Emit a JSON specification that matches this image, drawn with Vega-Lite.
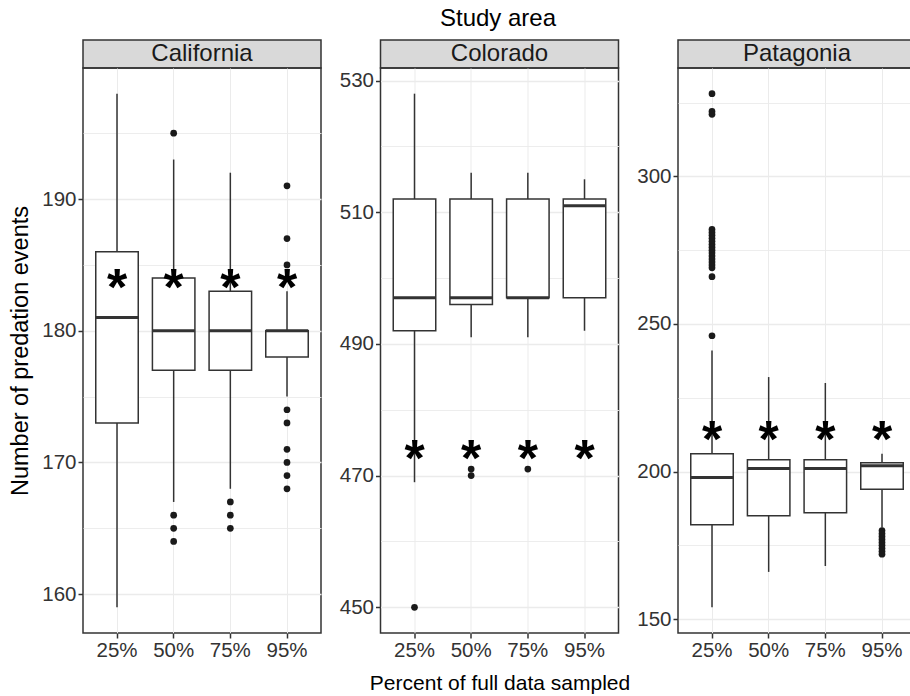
{
  "$schema": "https://vega.github.io/schema/vega-lite/v6.json",
  "padding": {"left": 8, "top": 7, "right": 0, "bottom": 0},
  "title": {"text": "Study area", "frame": "group", "anchor": "middle", "dx": 415, "fontSize": 24, "fontWeight": "normal", "font": "Liberation Sans", "color": "#000000", "offset": 8},
  "datasets": {
    "strips": [{"area": "California"}, {"area": "Colorado"}, {"area": "Patagonia"}],
    "boxes": [
      {"area": "California", "pct": "25%", "lower": 159, "q1": 173, "median": 181, "q3": 186, "upper": 198},
      {"area": "California", "pct": "50%", "lower": 167, "q1": 177, "median": 180, "q3": 184, "upper": 193},
      {"area": "California", "pct": "75%", "lower": 168, "q1": 177, "median": 180, "q3": 183, "upper": 192},
      {"area": "California", "pct": "95%", "lower": 175, "q1": 178, "median": 180, "q3": 180, "upper": 183},
      {"area": "Colorado", "pct": "25%", "lower": 469, "q1": 492, "median": 497, "q3": 512, "upper": 528},
      {"area": "Colorado", "pct": "50%", "lower": 491, "q1": 496, "median": 497, "q3": 512, "upper": 516},
      {"area": "Colorado", "pct": "75%", "lower": 491, "q1": 497, "median": 497, "q3": 512, "upper": 516},
      {"area": "Colorado", "pct": "95%", "lower": 492, "q1": 497, "median": 511, "q3": 512, "upper": 515},
      {"area": "Patagonia", "pct": "25%", "lower": 154, "q1": 182, "median": 198, "q3": 206, "upper": 241},
      {"area": "Patagonia", "pct": "50%", "lower": 166, "q1": 185, "median": 201, "q3": 204, "upper": 232},
      {"area": "Patagonia", "pct": "75%", "lower": 168, "q1": 186, "median": 201, "q3": 204, "upper": 230},
      {"area": "Patagonia", "pct": "95%", "lower": 181, "q1": 194, "median": 202, "q3": 203, "upper": 206}
    ],
    "outliers": [
      {"area": "California", "pct": "50%", "value": 195},
      {"area": "California", "pct": "50%", "value": 166},
      {"area": "California", "pct": "50%", "value": 165},
      {"area": "California", "pct": "50%", "value": 164},
      {"area": "California", "pct": "75%", "value": 167},
      {"area": "California", "pct": "75%", "value": 166},
      {"area": "California", "pct": "75%", "value": 165},
      {"area": "California", "pct": "95%", "value": 191},
      {"area": "California", "pct": "95%", "value": 187},
      {"area": "California", "pct": "95%", "value": 185},
      {"area": "California", "pct": "95%", "value": 174},
      {"area": "California", "pct": "95%", "value": 173},
      {"area": "California", "pct": "95%", "value": 171},
      {"area": "California", "pct": "95%", "value": 170},
      {"area": "California", "pct": "95%", "value": 169},
      {"area": "California", "pct": "95%", "value": 168},
      {"area": "Colorado", "pct": "25%", "value": 450},
      {"area": "Colorado", "pct": "50%", "value": 471},
      {"area": "Colorado", "pct": "50%", "value": 470},
      {"area": "Colorado", "pct": "75%", "value": 471},
      {"area": "Patagonia", "pct": "25%", "value": 328},
      {"area": "Patagonia", "pct": "25%", "value": 322},
      {"area": "Patagonia", "pct": "25%", "value": 321},
      {"area": "Patagonia", "pct": "25%", "value": 282},
      {"area": "Patagonia", "pct": "25%", "value": 281},
      {"area": "Patagonia", "pct": "25%", "value": 280},
      {"area": "Patagonia", "pct": "25%", "value": 279},
      {"area": "Patagonia", "pct": "25%", "value": 278},
      {"area": "Patagonia", "pct": "25%", "value": 277},
      {"area": "Patagonia", "pct": "25%", "value": 276},
      {"area": "Patagonia", "pct": "25%", "value": 275},
      {"area": "Patagonia", "pct": "25%", "value": 274},
      {"area": "Patagonia", "pct": "25%", "value": 273},
      {"area": "Patagonia", "pct": "25%", "value": 272},
      {"area": "Patagonia", "pct": "25%", "value": 271},
      {"area": "Patagonia", "pct": "25%", "value": 270},
      {"area": "Patagonia", "pct": "25%", "value": 269},
      {"area": "Patagonia", "pct": "25%", "value": 266},
      {"area": "Patagonia", "pct": "25%", "value": 246},
      {"area": "Patagonia", "pct": "95%", "value": 180},
      {"area": "Patagonia", "pct": "95%", "value": 179},
      {"area": "Patagonia", "pct": "95%", "value": 178},
      {"area": "Patagonia", "pct": "95%", "value": 177},
      {"area": "Patagonia", "pct": "95%", "value": 176},
      {"area": "Patagonia", "pct": "95%", "value": 175},
      {"area": "Patagonia", "pct": "95%", "value": 174},
      {"area": "Patagonia", "pct": "95%", "value": 173},
      {"area": "Patagonia", "pct": "95%", "value": 172}
    ],
    "stars": [
      {"area": "California", "pct": "25%", "value": 184},
      {"area": "California", "pct": "50%", "value": 184},
      {"area": "California", "pct": "75%", "value": 184},
      {"area": "California", "pct": "95%", "value": 184},
      {"area": "Colorado", "pct": "25%", "value": 474},
      {"area": "Colorado", "pct": "50%", "value": 474},
      {"area": "Colorado", "pct": "75%", "value": 474},
      {"area": "Colorado", "pct": "95%", "value": 474},
      {"area": "Patagonia", "pct": "25%", "value": 214},
      {"area": "Patagonia", "pct": "50%", "value": 214},
      {"area": "Patagonia", "pct": "75%", "value": 214},
      {"area": "Patagonia", "pct": "95%", "value": 214}
    ]
  },
  "columns": 3,
  "spacing": {"row": 0, "column": 59.5},
  "bounds": "flush",
  "concat": [
    {"width": 238, "height": 28, "view": {"fill": "#d9d9d9", "stroke": "#333333", "strokeWidth": 1.5},
     "data": {"name": "strips"}, "transform": [{"filter": "datum.area === 'California'"}],
     "mark": {"type": "text", "fontSize": 24, "color": "#1a1a1a", "baseline": "middle", "align": "center"},
     "encoding": {"text": {"field": "area"}}},
    {"width": 238, "height": 28, "view": {"fill": "#d9d9d9", "stroke": "#333333", "strokeWidth": 1.5},
     "data": {"name": "strips"}, "transform": [{"filter": "datum.area === 'Colorado'"}],
     "mark": {"type": "text", "fontSize": 24, "color": "#1a1a1a", "baseline": "middle", "align": "center"},
     "encoding": {"text": {"field": "area"}}},
    {"width": 238, "height": 28, "view": {"fill": "#d9d9d9", "stroke": "#333333", "strokeWidth": 1.5},
     "data": {"name": "strips"}, "transform": [{"filter": "datum.area === 'Patagonia'"}],
     "mark": {"type": "text", "fontSize": 24, "color": "#1a1a1a", "baseline": "middle", "align": "center"},
     "encoding": {"text": {"field": "area"}}},
    {"width": 238, "height": 565,
     "layer": [
       {"data": {"name": "boxes"}, "transform": [{"filter": "datum.area === 'California'"}],
        "mark": {"type": "rule", "color": "#333333", "strokeWidth": 1.5},
        "encoding": {
          "x": {"field": "pct", "type": "ordinal", "title": null, "scale": {"type": "band", "domain": ["25%", "50%", "75%", "95%"], "paddingInner": 0.25, "paddingOuter": 0.225}, "axis": {"bandPosition": 0.5, "grid": true, "labelAngle": 0}},
          "y": {"field": "lower", "type": "quantitative", "title": "Number of predation events", "scale": {"domain": [157.05, 199.95], "nice": false, "zero": false},
                "axis": {"values": [160, 165, 170, 175, 180, 185, 190, 195], "labelExpr": "datum.value % 10 === 0 ? datum.label : ''", "tickOpacity": {"condition": {"test": "datum.value % 10 === 0", "value": 1}, "value": 0}, "gridWidth": {"condition": {"test": "datum.value % 10 === 0", "value": 1.5}, "value": 0.9}}},
          "y2": {"field": "q1"}}},
       {"data": {"name": "boxes"}, "transform": [{"filter": "datum.area === 'California'"}],
        "mark": {"type": "rule", "color": "#333333", "strokeWidth": 1.5},
        "encoding": {"x": {"field": "pct", "type": "ordinal", "title": null}, "y": {"field": "q3", "type": "quantitative", "title": "Number of predation events"}, "y2": {"field": "upper"}}},
       {"data": {"name": "boxes"}, "transform": [{"filter": "datum.area === 'California'"}],
        "mark": {"type": "bar", "fill": "#ffffff", "stroke": "#333333", "strokeWidth": 1.5},
        "encoding": {"x": {"field": "pct", "type": "ordinal", "title": null}, "y": {"field": "q1", "type": "quantitative", "title": "Number of predation events"}, "y2": {"field": "q3"}}},
       {"data": {"name": "boxes"}, "transform": [{"filter": "datum.area === 'California'"}],
        "mark": {"type": "bar", "fill": "#333333", "stroke": "#333333", "strokeWidth": 3},
        "encoding": {"x": {"field": "pct", "type": "ordinal", "title": null}, "y": {"field": "median", "type": "quantitative", "title": "Number of predation events"}, "y2": {"field": "median"}}},
       {"data": {"name": "outliers"}, "transform": [{"filter": "datum.area === 'California'"}],
        "mark": {"type": "point", "filled": true, "size": 45, "color": "#1a1a1a", "opacity": 1},
        "encoding": {"x": {"field": "pct", "type": "ordinal", "title": null}, "y": {"field": "value", "type": "quantitative", "title": "Number of predation events"}}},
       {"data": {"name": "stars"}, "transform": [{"filter": "datum.area === 'California'"}],
        "mark": {"type": "text", "text": "*", "fontSize": 52, "fontWeight": "bold", "color": "#000000", "baseline": "alphabetic", "align": "center", "dy": 27},
        "encoding": {"x": {"field": "pct", "type": "ordinal", "title": null}, "y": {"field": "value", "type": "quantitative", "title": "Number of predation events"}}}
     ]},
    {"width": 238, "height": 565,
     "layer": [
       {"data": {"name": "boxes"}, "transform": [{"filter": "datum.area === 'Colorado'"}],
        "mark": {"type": "rule", "color": "#333333", "strokeWidth": 1.5},
        "encoding": {
          "x": {"field": "pct", "type": "ordinal", "title": "Percent of full data sampled", "scale": {"type": "band", "domain": ["25%", "50%", "75%", "95%"], "paddingInner": 0.25, "paddingOuter": 0.225}, "axis": {"bandPosition": 0.5, "grid": true, "labelAngle": 0}},
          "y": {"field": "lower", "type": "quantitative", "title": null, "scale": {"domain": [446.1, 531.9], "nice": false, "zero": false},
                "axis": {"values": [450, 460, 470, 480, 490, 500, 510, 520, 530], "labelExpr": "(datum.value - 450) % 20 === 0 ? datum.label : ''", "tickOpacity": {"condition": {"test": "(datum.value - 450) % 20 === 0", "value": 1}, "value": 0}, "gridWidth": {"condition": {"test": "(datum.value - 450) % 20 === 0", "value": 1.5}, "value": 0.9}}},
          "y2": {"field": "q1"}}},
       {"data": {"name": "boxes"}, "transform": [{"filter": "datum.area === 'Colorado'"}],
        "mark": {"type": "rule", "color": "#333333", "strokeWidth": 1.5},
        "encoding": {"x": {"field": "pct", "type": "ordinal", "title": "Percent of full data sampled"}, "y": {"field": "q3", "type": "quantitative", "title": null}, "y2": {"field": "upper"}}},
       {"data": {"name": "boxes"}, "transform": [{"filter": "datum.area === 'Colorado'"}],
        "mark": {"type": "bar", "fill": "#ffffff", "stroke": "#333333", "strokeWidth": 1.5},
        "encoding": {"x": {"field": "pct", "type": "ordinal", "title": "Percent of full data sampled"}, "y": {"field": "q1", "type": "quantitative", "title": null}, "y2": {"field": "q3"}}},
       {"data": {"name": "boxes"}, "transform": [{"filter": "datum.area === 'Colorado'"}],
        "mark": {"type": "bar", "fill": "#333333", "stroke": "#333333", "strokeWidth": 3},
        "encoding": {"x": {"field": "pct", "type": "ordinal", "title": "Percent of full data sampled"}, "y": {"field": "median", "type": "quantitative", "title": null}, "y2": {"field": "median"}}},
       {"data": {"name": "outliers"}, "transform": [{"filter": "datum.area === 'Colorado'"}],
        "mark": {"type": "point", "filled": true, "size": 45, "color": "#1a1a1a", "opacity": 1},
        "encoding": {"x": {"field": "pct", "type": "ordinal", "title": "Percent of full data sampled"}, "y": {"field": "value", "type": "quantitative", "title": null}}},
       {"data": {"name": "stars"}, "transform": [{"filter": "datum.area === 'Colorado'"}],
        "mark": {"type": "text", "text": "*", "fontSize": 52, "fontWeight": "bold", "color": "#000000", "baseline": "alphabetic", "align": "center", "dy": 27},
        "encoding": {"x": {"field": "pct", "type": "ordinal", "title": "Percent of full data sampled"}, "y": {"field": "value", "type": "quantitative", "title": null}}}
     ]},
    {"width": 238, "height": 565,
     "layer": [
       {"data": {"name": "boxes"}, "transform": [{"filter": "datum.area === 'Patagonia'"}],
        "mark": {"type": "rule", "color": "#333333", "strokeWidth": 1.5},
        "encoding": {
          "x": {"field": "pct", "type": "ordinal", "title": null, "scale": {"type": "band", "domain": ["25%", "50%", "75%", "95%"], "paddingInner": 0.25, "paddingOuter": 0.225}, "axis": {"bandPosition": 0.5, "grid": true, "labelAngle": 0}},
          "y": {"field": "lower", "type": "quantitative", "title": null, "scale": {"domain": [145.3, 336.7], "nice": false, "zero": false},
                "axis": {"values": [150, 175, 200, 225, 250, 275, 300, 325], "labelExpr": "datum.value % 50 === 0 ? datum.label : ''", "tickOpacity": {"condition": {"test": "datum.value % 50 === 0", "value": 1}, "value": 0}, "gridWidth": {"condition": {"test": "datum.value % 50 === 0", "value": 1.5}, "value": 0.9}}},
          "y2": {"field": "q1"}}},
       {"data": {"name": "boxes"}, "transform": [{"filter": "datum.area === 'Patagonia'"}],
        "mark": {"type": "rule", "color": "#333333", "strokeWidth": 1.5},
        "encoding": {"x": {"field": "pct", "type": "ordinal", "title": null}, "y": {"field": "q3", "type": "quantitative", "title": null}, "y2": {"field": "upper"}}},
       {"data": {"name": "boxes"}, "transform": [{"filter": "datum.area === 'Patagonia'"}],
        "mark": {"type": "bar", "fill": "#ffffff", "stroke": "#333333", "strokeWidth": 1.5},
        "encoding": {"x": {"field": "pct", "type": "ordinal", "title": null}, "y": {"field": "q1", "type": "quantitative", "title": null}, "y2": {"field": "q3"}}},
       {"data": {"name": "boxes"}, "transform": [{"filter": "datum.area === 'Patagonia'"}],
        "mark": {"type": "bar", "fill": "#333333", "stroke": "#333333", "strokeWidth": 3},
        "encoding": {"x": {"field": "pct", "type": "ordinal", "title": null}, "y": {"field": "median", "type": "quantitative", "title": null}, "y2": {"field": "median"}}},
       {"data": {"name": "outliers"}, "transform": [{"filter": "datum.area === 'Patagonia'"}],
        "mark": {"type": "point", "filled": true, "size": 45, "color": "#1a1a1a", "opacity": 1},
        "encoding": {"x": {"field": "pct", "type": "ordinal", "title": null}, "y": {"field": "value", "type": "quantitative", "title": null}}},
       {"data": {"name": "stars"}, "transform": [{"filter": "datum.area === 'Patagonia'"}],
        "mark": {"type": "text", "text": "*", "fontSize": 52, "fontWeight": "bold", "color": "#000000", "baseline": "alphabetic", "align": "center", "dy": 27},
        "encoding": {"x": {"field": "pct", "type": "ordinal", "title": null}, "y": {"field": "value", "type": "quantitative", "title": null}}}
     ]}
  ],
  "config": {
    "font": "Liberation Sans",
    "background": "#ffffff",
    "view": {"stroke": "#333333", "strokeWidth": 1.5},
    "axis": {"labelFont": "Liberation Sans", "labelFontSize": 20.5, "labelColor": "#333333", "tickColor": "#333333", "tickSize": 5, "tickWidth": 1.5, "labelPadding": 2, "gridColor": "#ebebeb", "domain": false, "labelOverlap": false, "labelFlush": false, "titleFont": "Liberation Sans", "titleFontWeight": "normal", "titleColor": "#000000"},
    "axisY": {"titleFontSize": 23.5, "titlePadding": 9},
    "axisX": {"titleFontSize": 21, "titlePadding": 12},
    "title": {"fontSize": 24, "fontWeight": "normal"}
  }
}
